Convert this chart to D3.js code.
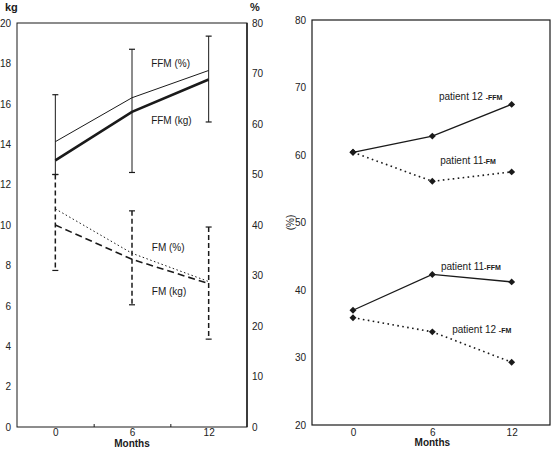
<!DOCTYPE html>
<html>
<head>
<meta charset="utf-8">
<script src="https://cdn.jsdelivr.net/npm/d3@7"></script>
<style>
  body { margin: 0; background: #fff; }
  svg { display: block; font-family: "Liberation Sans", Arial, sans-serif; }
  .tick text { font-size: 10px; fill: #222; }
  .domain { display: none; }
</style>
</head>
<body>
<div id="container"></div>
<script>
/* CONSTANTS AND GLOBALS */
const width = 559;
const height = 449;
const ink = "#1a1a1a";

/* DATA */
const months = [0, 6, 12];
// left panel, group means (kg on left axis, % on right axis)
const ffmKg = [13.2, 15.6, 17.2];
const ffmPct = [56.5, 65.2, 70.6];
const fmKg = [10.0, 8.3, 7.1];
const fmPct = [43.2, 34.4, 28.8];
// error bars (kg)
const ffmKgHi = [16.45, 18.7, 19.35];
const ffmKgLo = [12.5, 12.6, 15.1];
const fmKgHi = [12.5, 10.7, 9.9];
const fmKgLo = [7.75, 6.05, 4.35];
// right panel, single patients (%)
const p12ffm = [60.4, 62.8, 67.5];
const p11fm = [60.4, 56.1, 57.5];
const p11ffm = [37.0, 42.3, 41.2];
const p12fm = [35.9, 33.8, 29.3];

const kgTicks = [0, 2, 4, 6, 8, 10, 12, 14, 16, 18, 20];
const pctTicks = [0, 10, 20, 30, 40, 50, 60, 70, 80];
const rightTicks = [20, 30, 40, 50, 60, 70, 80];

/* SCALES */
// left panel
const xL = d3.scaleLinear().domain([-3, 15]).range([17, 247]);
const yKg = d3.scaleLinear().domain([0, 20]).range([427, 23]);
const yPct = d3.scaleLinear().domain([0, 80]).range([427, 23]);
// right panel
const xR = d3.scaleLinear().domain([-3.1, 14.9]).range([312, 550]);
const yR = d3.scaleLinear().domain([20, 80]).range([425, 20]);

/* HTML ELEMENTS */
const svg = d3.select("#container")
  .append("svg")
  .attr("width", width)
  .attr("height", height);

const left = svg.append("g");
const right = svg.append("g");

// frames
left.append("rect")
  .attr("x", xL(-3)).attr("y", yKg(20))
  .attr("width", xL(15) - xL(-3)).attr("height", yKg(0) - yKg(20))
  .attr("fill", "none").attr("stroke", ink).attr("stroke-width", 1);
left.append("line") // heavier right axis
  .attr("x1", xL(15)).attr("x2", xL(15))
  .attr("y1", yKg(20)).attr("y2", yKg(0))
  .attr("stroke", ink).attr("stroke-width", 1.4);
right.append("rect")
  .attr("x", xR(-3.1)).attr("y", yR(80))
  .attr("width", xR(14.9) - xR(-3.1)).attr("height", yR(20) - yR(80))
  .attr("fill", "none").attr("stroke", ink).attr("stroke-width", 1.2);

/* AXES */
left.append("g")
  .attr("transform", `translate(${xL(-3)},0)`)
  .call(d3.axisLeft(yKg).tickValues(kgTicks).tickSize(0).tickPadding(6));
left.append("g")
  .attr("transform", `translate(${xL(15)},0)`)
  .call(d3.axisRight(yPct).tickValues(pctTicks).tickSize(0).tickPadding(5));
left.append("g")
  .attr("transform", `translate(0,${yKg(0)})`)
  .call(d3.axisBottom(xL).tickValues(months).tickSize(0).tickPadding(2));
// small minor ticks on the month axis
left.append("g")
  .attr("transform", `translate(0,${yKg(0)})`)
  .call(d3.axisBottom(xL).tickValues([3, 9]).tickSize(-3).tickFormat(""))
  .selectAll("line").attr("stroke", ink);

right.append("g")
  .attr("transform", `translate(${xR(-3.1)},0)`)
  .call(d3.axisLeft(yR).tickValues(rightTicks).tickSize(0).tickPadding(6));
right.append("g")
  .attr("transform", `translate(0,${yR(20)})`)
  .call(d3.axisBottom(xR).tickValues(months).tickSize(0).tickPadding(4));

// axis titles
svg.append("text").attr("x", 5).attr("y", 11)
  .attr("font-size", 11).attr("font-weight", "bold").attr("fill", ink).text("kg");
svg.append("text").attr("x", 250).attr("y", 11)
  .attr("font-size", 11).attr("font-weight", "bold").attr("fill", ink).text("%");
svg.append("text").attr("x", xL(6)).attr("y", 447)
  .attr("text-anchor", "middle").attr("font-size", 10).attr("font-weight", "bold")
  .attr("fill", ink).text("Months");
svg.append("text").attr("x", xR(6)).attr("y", 446)
  .attr("text-anchor", "middle").attr("font-size", 10).attr("font-weight", "bold")
  .attr("fill", ink).text("Months");
svg.append("text")
  .attr("transform", `translate(294,${yR(50)}) rotate(-90)`)
  .attr("text-anchor", "middle").attr("font-size", 10).attr("fill", ink).text("(%)");

/* LEFT PANEL MARKS */
// error bars
const capW = 3;
function errorBars(hi, lo, dash, sw) {
  const g = left.append("g").attr("stroke", ink);
  g.selectAll("line.bar")
    .data(months)
    .join("line")
    .attr("class", "bar")
    .attr("x1", d => xL(d)).attr("x2", d => xL(d))
    .attr("y1", (d, i) => yKg(hi[i])).attr("y2", (d, i) => yKg(lo[i]))
    .attr("stroke-width", sw)
    .attr("stroke-dasharray", dash);
  [hi, lo].forEach(arr => {
    g.selectAll(null)
      .data(months)
      .join("line")
      .attr("x1", d => xL(d) - capW).attr("x2", d => xL(d) + capW)
      .attr("y1", (d, i) => yKg(arr[i])).attr("y2", (d, i) => yKg(arr[i]))
      .attr("stroke-width", 1.2);
  });
}
errorBars(ffmKgHi, ffmKgLo, null, 1);
errorBars(fmKgHi, fmKgLo, "5,3", 1.5);

function leftLine(vals, yScale, sw, dash) {
  const line = d3.line().x((d, i) => xL(months[i])).y(d => yScale(d));
  left.append("path")
    .datum(vals)
    .attr("d", line)
    .attr("fill", "none")
    .attr("stroke", ink)
    .attr("stroke-width", sw)
    .attr("stroke-dasharray", dash);
}
leftLine(ffmPct, yPct, 1, null);
leftLine(ffmKg, yKg, 2.6, null);
leftLine(fmPct, yPct, 1, "1.5,2.5");
leftLine(fmKg, yKg, 1.6, "7,4");

// series labels
function leftLabel(txt, m, kg) {
  left.append("text").attr("x", xL(m)).attr("y", yKg(kg))
    .attr("font-size", 10).attr("fill", ink).text(txt);
}
leftLabel("FFM (%)", 7.5, 17.8);
leftLabel("FFM (kg)", 7.5, 15.0);
leftLabel("FM (%)", 7.55, 8.7);
leftLabel("FM (kg)", 7.55, 6.55);

/* RIGHT PANEL MARKS */
// diamond = square turned 45 degrees (d3's own diamond is too tall)
const diamond = d3.symbol().type(d3.symbolSquare).size(24);
function rightSeries(vals, dash) {
  const line = d3.line().x((d, i) => xR(months[i])).y(d => yR(d));
  right.append("path")
    .datum(vals)
    .attr("d", line)
    .attr("fill", "none")
    .attr("stroke", ink)
    .attr("stroke-width", dash ? 1.6 : 1.3)
    .attr("stroke-dasharray", dash);
  right.selectAll(null)
    .data(vals)
    .join("path")
    .attr("d", diamond)
    .attr("transform", (d, i) => `translate(${xR(months[i])},${yR(d)}) rotate(45)`)
    .attr("fill", ink);
}
rightSeries(p12ffm, null);
rightSeries(p11fm, "1.6,3.4");
rightSeries(p11ffm, null);
rightSeries(p12fm, "1.6,3.4");

function rightLabel(main, tag, m, pct) {
  const t = right.append("text").attr("x", xR(m)).attr("y", yR(pct))
    .attr("font-size", 10).attr("fill", ink);
  t.append("tspan").text(main);
  t.append("tspan").attr("font-size", 7).attr("font-weight", "bold").text(tag);
}
rightLabel("patient 12 ", "-FFM", 6.5, 68.1);
rightLabel("patient 11", "-FM", 6.6, 58.7);
rightLabel("patient 11", "-FFM", 6.65, 43.0);
rightLabel("patient 12 ", "-FM", 7.5, 33.6);
</script>
</body>
</html>
